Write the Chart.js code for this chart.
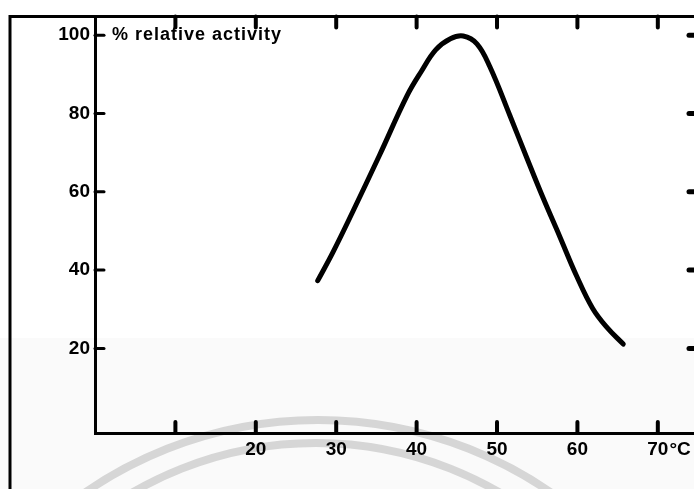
<!DOCTYPE html>
<html lang="en">
<head>
    <meta charset="UTF-8">
    <title>% relative activity vs temperature</title>
    <script src="https://cdn.jsdelivr.net/npm/chart.js"></script>
    <style>
        body {
            margin: 0;
            padding: 0;
            background-color: #ffffff;
        }
        #wrap {
            width: 694px;
            height: 489px;
        }
    </style>
</head>
<body>
    <div id="wrap">
        <canvas id="myChart" width="694" height="489"></canvas>
    </div>

    <script>
        // curve (temperature in °C, % relative activity)
        const tempC = [27.7, 29.6, 32.1, 35.4, 38.8, 40.6, 42.4, 44.2, 45.8, 47.5, 49.1, 51.6, 53.7, 55.7, 57.8, 59.9, 61.9, 63.7, 65.7];
        const activity = [37.3, 44.6, 55.1, 69.4, 84.5, 90.8, 96.3, 99.1, 99.8, 97.8, 92.0, 79.5, 68.7, 58.6, 48.6, 38.5, 30.2, 25.3, 21.1];

        // axis ticks
        const xTicks = [10, 20, 30, 40, 50, 60, 70];
        const xTickLabels = ['', '20', '30', '40', '50', '60', '70'];
        const yTicks = [20, 40, 60, 80, 100];
        const yTickLabels = ['20', '40', '60', '80', '100'];

        const axisTitle = '% relative activity';
        const xUnit = '°C';

        const FONT = "'Liberation Sans', Arial, sans-serif";
        Chart.defaults.font.family = FONT;
        Chart.defaults.font.size = 19;
        Chart.defaults.font.weight = 'bold';
        Chart.defaults.color = '#000';

        // paper tint + faint watermark arcs of the scan
        const scanBackground = {
            id: 'scanBackground',
            beforeDraw(chart) {
                const c = chart.ctx;
                c.save();
                c.fillStyle = '#ffffff';
                c.fillRect(0, 0, chart.width, chart.height);
                c.fillStyle = '#fafafa';
                c.fillRect(0, 338, chart.width, chart.height - 338);
                c.strokeStyle = '#d6d6d6';
                c.lineWidth = 8;
                c.beginPath();
                c.arc(318, 830, 410, Math.PI, 2 * Math.PI);
                c.stroke();
                c.beginPath();
                c.arc(316, 808, 365, Math.PI, 2 * Math.PI);
                c.stroke();
                c.restore();
            }
        };

        // frame, inward tick marks, title text
        const frameAndTicks = {
            id: 'frameAndTicks',
            afterDraw(chart) {
                const c = chart.ctx;
                const area = chart.chartArea;
                const x = chart.scales.x;
                const y = chart.scales.y;
                c.save();
                c.strokeStyle = '#000';
                c.fillStyle = '#000';
                c.lineCap = 'round';

                // outer frame
                c.lineWidth = 3;
                c.beginPath();
                c.moveTo(10, chart.height);
                c.lineTo(10, area.top);
                c.lineTo(chart.width, area.top);
                c.stroke();

                // x ticks, bottom and top, pointing inward
                c.lineWidth = 4;
                xTicks.forEach(v => {
                    const px = x.getPixelForValue(v);
                    c.beginPath();
                    c.moveTo(px, area.bottom);
                    c.lineTo(px, area.bottom - 11);
                    c.moveTo(px, area.top);
                    c.lineTo(px, area.top + 11);
                    c.stroke();
                });

                // y ticks, left inward and stubs of the right axis
                yTicks.forEach(v => {
                    const py = y.getPixelForValue(v);
                    c.lineWidth = 3;
                    c.beginPath();
                    c.moveTo(area.left, py);
                    c.lineTo(area.left + 9, py);
                    c.stroke();
                    c.lineWidth = 5;
                    c.beginPath();
                    c.moveTo(chart.width + 2, py);
                    c.lineTo(chart.width - 5, py);
                    c.stroke();
                });

                // axis title next to the 100 tick
                c.font = 'bold 18px ' + FONT;
                c.textBaseline = 'middle';
                c.textAlign = 'left';
                if ('letterSpacing' in c) c.letterSpacing = '1px';
                c.fillText(axisTitle, area.left + 17, y.getPixelForValue(100));
                if ('letterSpacing' in c) c.letterSpacing = '0px';

                // unit after the last x label
                c.font = 'bold 19px ' + FONT;
                const lastVal = xTicks[xTicks.length - 1];
                const lastLabel = xTickLabels[xTickLabels.length - 1];
                const w = c.measureText(lastLabel).width;
                const lx = x.getPixelForValue(lastVal) + w / 2 + 1;
                const ly = x.top + 5 + 11.4;
                c.fillText(xUnit, lx, ly);
                c.restore();
            }
        };

        const ctx = document.getElementById('myChart').getContext('2d');

        const myChart = new Chart(ctx, {
            type: 'line',
            data: {
                datasets: [{
                    label: axisTitle,
                    data: tempC.map((t, i) => ({ x: t, y: activity[i] })),
                    borderColor: '#000',
                    borderWidth: 5,
                    borderCapStyle: 'round',
                    borderJoinStyle: 'round',
                    pointRadius: 0,
                    fill: false,
                    tension: 0.4
                }]
            },
            options: {
                responsive: false,
                animation: false,
                layout: {
                    padding: { top: 9, left: 0, right: 0, bottom: 0 }
                },
                plugins: {
                    legend: { display: false },
                    tooltip: { enabled: false }
                },
                scales: {
                    x: {
                        type: 'linear',
                        min: 0,
                        max: 74.5,
                        afterFit(scale) { scale.height = 56; },
                        afterBuildTicks(scale) {
                            scale.ticks = xTicks.map(v => ({ value: v }));
                        },
                        ticks: {
                            padding: 5,
                            maxRotation: 0,
                            autoSkip: false,
                            callback(value) {
                                const i = xTicks.indexOf(value);
                                return i >= 0 ? xTickLabels[i] : '';
                            }
                        },
                        grid: { display: false, drawTicks: false },
                        border: { display: true, color: '#000', width: 3 }
                    },
                    y: {
                        type: 'linear',
                        min: -1.6,
                        max: 104.8,
                        afterFit(scale) { scale.width = 95; },
                        afterBuildTicks(scale) {
                            scale.ticks = yTicks.map(v => ({ value: v }));
                        },
                        ticks: {
                            padding: 5,
                            autoSkip: false,
                            callback(value) {
                                const i = yTicks.indexOf(value);
                                return i >= 0 ? yTickLabels[i] : '';
                            }
                        },
                        grid: { display: false, drawTicks: false },
                        border: { display: true, color: '#000', width: 3 }
                    }
                }
            },
            plugins: [scanBackground, frameAndTicks]
        });
    </script>
</body>
</html>
